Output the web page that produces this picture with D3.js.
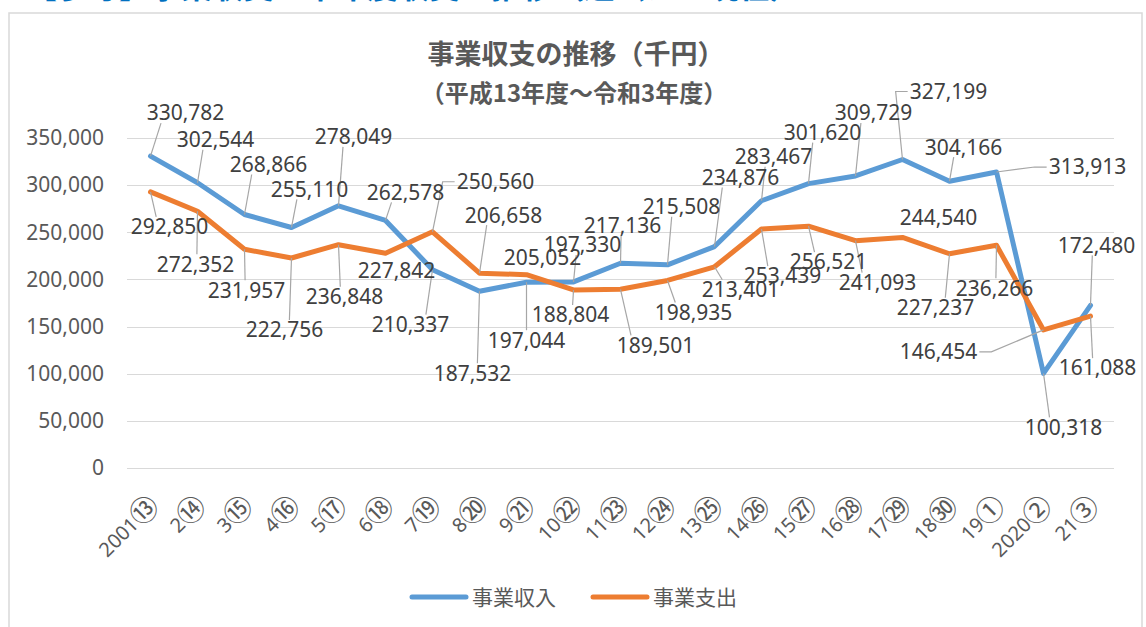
<!DOCTYPE html>
<html>
<head>
<meta charset="utf-8">
<script src="https://cdn.jsdelivr.net/npm/d3@7"></script>
<style>
  body { margin: 0; background: #fff; }
  svg { display: block; }
</style>
</head>
<body>
<div id="chart"></div>
<script>
var w = 1146;
var h = 627;

// data
var categories = ["2001⑬", "2⑭", "3⑮", "4⑯", "5⑰", "6⑱", "7⑲", "8⑳", "9㉑", "10㉒", "11㉓",
    "12㉔", "13㉕", "14㉖", "15㉗", "16㉘", "17㉙", "18㉚", "19①", "2020②", "21③"];
var income = [330782, 302544, 268866, 255110, 278049, 262578, 210337, 187532, 197044, 197330, 217136,
    215508, 234876, 283467, 301620, 309729, 327199, 304166, 313913, 100318, 172480];
var expense = [292850, 272352, 231957, 222756, 236848, 227842, 250560, 206658, 205052, 188804, 189501,
    198935, 213401, 253439, 256521, 241093, 244540, 227237, 236266, 146454, 161088];
var seriesNames = ["事業収入", "事業支出"];
var yTicks = [0, 50000, 100000, 150000, 200000, 250000, 300000, 350000];

// label placement (offset of the label centre from its point, px)
var incomeLabelOffset = [[35, -43], [18, -43], [24, -50], [18, -38], [15, -69], [20, -28], [-22, 55],
    [-7, 82], [0, 58], [9, -37], [2, -38], [14, -58], [26, -69], [12, -44], [14, -51], [18, -63],
    [46, -68], [14, -34], [91, -5], [20, 54], [6, -60]];
var expenseLabelOffset = [[19, 35], [-2, 53], [2, 41], [-7, 72], [6, 52], [11, 17], [63, -50],
    [24, -58], [16, -17], [-3, 25], [35, 56], [26, 32], [26, 23], [21, 47], [20, 36], [22, 42],
    [36, -20], [-14, 54], [-2, 43], [-105, 22], [7, 52]];

var colors = ["#5b9bd5", "#ed7d31"];
var numFont = "'Noto Sans', 'Noto Sans CJK JP', sans-serif";
var jpFont = "'Noto Sans CJK JP', sans-serif";

var svg = d3.select("#chart")
    .append("svg")
    .attr("width", w)
    .attr("height", h);

// page header, cut off by the top edge
svg.append("text")
    .attr("x", 26)
    .attr("y", -2)
    .attr("font-family", jpFont)
    .attr("font-weight", "bold")
    .attr("font-size", "31px")
    .attr("fill", "#0070c0")
    .text("【参考】事業収支と単年度収支の推移（過去から現在）");

// chart frame
svg.append("rect")
    .attr("x", 9)
    .attr("y", 13)
    .attr("width", 1133)
    .attr("height", 640)
    .attr("fill", "#fff")
    .attr("stroke", "#d9d9d9")
    .attr("stroke-width", 1.5);

// titles
svg.append("text")
    .attr("x", 576)
    .attr("y", 64)
    .attr("text-anchor", "middle")
    .attr("font-family", jpFont)
    .attr("font-weight", "bold")
    .attr("font-size", "27px")
    .attr("fill", "#595959")
    .text("事業収支の推移（千円）");

svg.append("text")
    .attr("x", 574)
    .attr("y", 102)
    .attr("text-anchor", "middle")
    .attr("font-family", jpFont)
    .attr("font-weight", "bold")
    .attr("font-size", "24px")
    .attr("fill", "#595959")
    .text("（平成13年度～令和3年度）");

// scales
var xScale = d3.scaleBand()
    .domain(categories)
    .range([127, 1114]);

var yScale = d3.scaleLinear()
    .domain([0, 350000])
    .range([468, 138]);

var cx = function (d, i) { return xScale(categories[i]) + xScale.bandwidth() / 2; };

// grid lines
svg.append("g")
    .selectAll("line")
    .data(yTicks)
    .enter()
    .append("line")
    .attr("x1", 127)
    .attr("x2", 1114)
    .attr("y1", function (d) { return Math.round(yScale(d)) + 0.5; })
    .attr("y2", function (d) { return Math.round(yScale(d)) + 0.5; })
    .attr("stroke", "#d9d9d9")
    .attr("stroke-width", 1);

// Y axis
var yAxis = d3.axisLeft(yScale)
    .tickValues(yTicks)
    .tickSize(0)
    .tickPadding(0)
    .tickFormat(d3.format(","));

var yG = svg.append("g")
    .attr("transform", "translate(104,0)")
    .call(yAxis);
yG.select(".domain").remove();
yG.selectAll("text")
    .attr("font-family", numFont)
    .attr("font-size", "21px")
    .attr("fill", "#595959");

// X axis labels (year + circled era year)
var xAxis = d3.axisBottom(xScale)
    .tickSize(0)
    .tickPadding(0);

var xG = svg.append("g")
    .attr("transform", "translate(0,468)")
    .call(xAxis);
xG.select(".domain").remove();
xG.selectAll("text")
    .attr("font-family", numFont)
    .attr("font-size", "20px")
    .attr("fill", "#595959")
    .attr("text-anchor", "end")
    .attr("y", 0)
    .attr("dy", 0)
    .attr("transform", "translate(9,38) rotate(-45)")
    .each(function (d) {
        var t = d3.select(this);
        var chars = Array.from(d);
        var circ = chars.pop();
        t.text(null);
        t.append("tspan").text(chars.join(""));
        t.append("tspan")
            .attr("font-family", jpFont)
            .attr("font-size", "28px")
            .attr("dy", "0.08em")
            .text(circ);
    });

// lines
var line = d3.line()
    .x(cx)
    .y(function (d) { return yScale(d); });

[income, expense].forEach(function (series, k) {
    svg.append("path")
        .datum(series)
        .attr("d", line)
        .attr("fill", "none")
        .attr("stroke", colors[k])
        .attr("stroke-width", 5)
        .attr("stroke-linejoin", "round")
        .attr("stroke-linecap", "round");
});

// data labels with leader lines
var leaderG = svg.append("g");
var labelG = svg.append("g");

function addLabels(series, offsets) {
    series.forEach(function (v, i) {
        var px = cx(v, i);
        var py = yScale(v);
        var lx = px + offsets[i][0];
        var ly = py + offsets[i][1];
        var t = labelG.append("text")
            .attr("x", lx)
            .attr("y", ly)
            .attr("dy", "0.35em")
            .attr("text-anchor", "middle")
            .attr("font-family", numFont)
            .attr("font-size", "21px")
            .attr("fill", "#404040")
            .text(d3.format(",")(v));
        var tw = t.node().getComputedTextLength();
        var left = lx - tw / 2 - 2, right = lx + tw / 2 + 2;
        var top = ly - 10, bottom = ly + 10;
        var pts;
        if (px < left || px > right) {
            var edge = px < left ? left : right;
            var stub = px < left ? -12 : 12;
            pts = [[px, py], [edge + stub, ly], [edge, ly]];
        } else {
            var ey = py < top ? top : (py > bottom ? bottom : py);
            if (Math.abs(ey - py) < 12) return;
            pts = [[px, py], [px + (lx - px) * 0.3, ey]];
        }
        leaderG.append("path")
            .attr("d", d3.line()(pts))
            .attr("fill", "none")
            .attr("stroke", "#a6a6a6")
            .attr("stroke-width", 1.2);
    });
}
addLabels(income, incomeLabelOffset);
addLabels(expense, expenseLabelOffset);

// legend
var legend = svg.append("g")
    .selectAll("g")
    .data(seriesNames)
    .enter()
    .append("g")
    .attr("transform", function (d, i) { return "translate(" + (412 + i * 181) + ",597)"; });

legend.append("line")
    .attr("x1", 0)
    .attr("x2", 54)
    .attr("stroke", function (d, i) { return colors[i]; })
    .attr("stroke-width", 5)
    .attr("stroke-linecap", "round");

legend.append("text")
    .attr("x", 60)
    .attr("dy", "0.36em")
    .attr("font-family", jpFont)
    .attr("font-size", "21px")
    .attr("fill", "#595959")
    .text(function (d) { return d; });
</script>
</body>
</html>
